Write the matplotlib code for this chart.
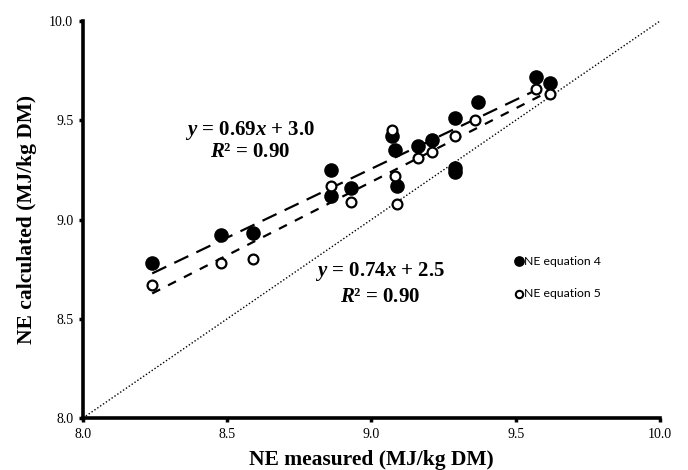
import numpy as np
import matplotlib.pyplot as plt

# measured vs calculated NE (MJ/kg DM)
eq4_measured = [8.24, 8.48, 8.59, 8.86, 8.86, 8.93, 9.07, 9.08, 9.09, 9.16, 9.21,
                9.29, 9.29, 9.29, 9.37, 9.57, 9.62]
eq4_calc = [8.78, 8.92, 8.93, 9.25, 9.12, 9.16, 9.42, 9.35, 9.17, 9.37, 9.40,
            9.51, 9.26, 9.24, 9.59, 9.72, 9.69]
eq5_measured = [8.24, 8.48, 8.59, 8.86, 8.93, 9.07, 9.08, 9.09, 9.16, 9.21,
                9.29, 9.36, 9.57, 9.62]
eq5_calc = [8.67, 8.78, 8.80, 9.17, 9.09, 9.45, 9.22, 9.08, 9.31, 9.34,
            9.42, 9.50, 9.66, 9.63]

# trendline coefficients (slope, intercept)
fit4 = (0.694, 3.01)
fit5 = (0.74, 2.53)

serif = "Liberation Serif"
plt.rcParams["mathtext.fontset"] = "custom"
plt.rcParams["mathtext.rm"] = serif
plt.rcParams["mathtext.bf"] = serif + ":bold"
plt.rcParams["mathtext.bfit"] = serif + ":italic:bold"
plt.rcParams["mathtext.it"] = serif + ":italic"

fig = plt.figure(figsize=(6.88, 4.70), dpi=100)
ax = fig.add_axes([0.1206, 0.1106, 0.8387, 0.8447])

# 1:1 line
ax.plot([8, 10], [8, 10], color="black", linestyle=(0, (1, 1.5)), linewidth=1.0)

# trendlines
xs = np.array([min(eq4_measured), max(eq4_measured)])
ax.plot(xs, fit4[0] * xs + fit4[1], color="black", linewidth=1.6,
        linestyle=(0, (7, 4)))
xs = np.array([min(eq5_measured), max(eq5_measured)])
ax.plot(xs, fit5[0] * xs + fit5[1], color="black", linewidth=1.6,
        linestyle=(0, (4, 4)))

ax.scatter(eq4_measured, eq4_calc, s=90, color="black", zorder=3)
ax.scatter(eq5_measured, eq5_calc, s=50, facecolor="white", edgecolor="black",
           linewidth=1.6, zorder=4)

ax.set_xlim(8, 10)
ax.set_ylim(8, 10)
ticks = [8.0, 8.5, 9.0, 9.5, 10.0]
ax.set_xticks(ticks)
ax.set_yticks(ticks)
ax.set_xticklabels([f"{t:.1f}" for t in ticks], family=serif, fontsize=10)
ax.set_yticklabels([f"{t:.1f}" for t in ticks], family=serif, fontsize=10)
ax.tick_params(direction="out", length=3, width=2.5, pad=4)

for side in ["top", "right"]:
    ax.spines[side].set_visible(False)
for side in ["left", "bottom"]:
    ax.spines[side].set_linewidth(2.6)

ax.set_xlabel("NE measured (MJ/kg DM)", family=serif, fontsize=15.5,
              fontweight="bold", labelpad=7)
ax.set_ylabel("NE calculated (MJ/kg DM)", family=serif, fontsize=15.5,
              fontweight="bold", labelpad=9)

# equation labels
eq_style = dict(family=serif, fontsize=15, fontweight="bold", ha="center", va="center")
ax.text(8.58, 9.45, r"$\mathbfit{y}$ = 0.69$\mathbfit{x}$ + 3.0", **eq_style)
ax.text(8.58, 9.34, r"$\mathbfit{R}$² = 0.90", **eq_style)
ax.text(9.03, 8.737, r"$\mathbfit{y}$ = 0.74$\mathbfit{x}$ + 2.5", **eq_style)
ax.text(9.03, 8.61, r"$\mathbfit{R}$² = 0.90", **eq_style)

# legend
ax.scatter([9.51], [8.79], s=45, color="black", clip_on=False)
ax.text(9.527, 8.79, "NE equation 4", family="Lato", fontsize=8.8, va="center")
ax.scatter([9.51], [8.625], s=28, facecolor="white", edgecolor="black",
           linewidth=1.5, clip_on=False)
ax.text(9.527, 8.625, "NE equation 5", family="Lato", fontsize=8.8, va="center")

fig.savefig("out.png", dpi=100)
